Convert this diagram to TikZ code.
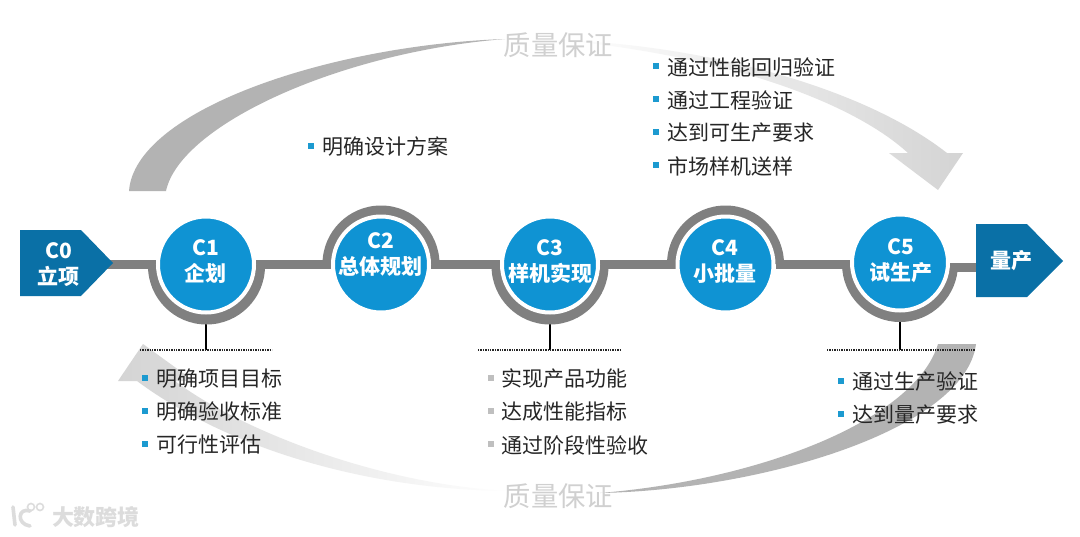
\documentclass[tikz,border=0pt]{standalone}
\usepackage{fontspec}
\setmainfont{Noto Sans CJK SC}
\usetikzlibrary{backgrounds}
\definecolor{stageblue}{HTML}{0F93D3}
\definecolor{darkblue}{HTML}{0A70A6}
\definecolor{bandgray}{HTML}{808080}
\definecolor{swoosh}{HTML}{B3B3B3}
\definecolor{swooshl}{HTML}{D4D4D4}
\definecolor{bulblue}{HTML}{1C9AD0}
\definecolor{bulgray}{HTML}{BFBFBF}
\definecolor{qual}{HTML}{D0D0D0}
\definecolor{bodytext}{HTML}{262626}
\definecolor{wm}{HTML}{DCDCDC}
\tikzset{
  stage/.style={circle,fill=stageblue,draw=white,line width=4pt,minimum size=96pt,inner sep=0pt},
  stagetext/.style={text=white,font=\fontsize{21}{26}\selectfont\bfseries,align=center,inner sep=0pt},
  band/.style={draw=bandgray,line width=9pt},
  ringfill/.style={fill=bandgray},
  stem/.style={draw=black,line width=1.5pt},
  dots/.style={draw=black!85,line width=1.6pt,dash pattern=on 1.4pt off 1pt},
  item/.style={anchor=west,inner sep=0pt,text=bodytext,font=\fontsize{21}{26}\selectfont},
  bul/.style={fill=bulblue,minimum size=6pt,inner sep=0pt},
  bulg/.style={fill=bulgray,minimum size=6pt,inner sep=0pt},
  qualtext/.style={text=qual,font=\fontsize{27.3}{30}\selectfont,inner sep=0pt},
  arrowbox/.style={fill=darkblue},
  wmtext/.style={text=wm,font=\fontsize{22}{26}\selectfont\bfseries,inner sep=0pt},
  wmline/.style={draw=wm,line width=3.6pt,line cap=round}
}
\begin{document}
\begin{tikzpicture}[x=1pt,y=-1pt]
\useasboundingbox (0,0) rectangle (1080,536);
% stage nodes
\fill[arrowbox] (20,230) -- (81,230) -- (113,263) -- (81,296) -- (20,296) -- cycle;
\fill[arrowbox] (976,224) -- (1027,224) -- (1063,261) -- (1027,297) -- (976,297) -- cycle;
\coordinate (c0) at (60,264.5);
\coordinate (c6) at (1000,267.5);
\node[stage] (c1) at (206,264.5) {};
\node[stage] (c2) at (381,264.5) {};
\node[stage] (c3) at (550,264.5) {};
\node[stage] (c4) at (725.5,264.5) {};
\node[stage] (c5) at (900,262.5) {};
\coordinate (c5r) at (930,267.5);
\node[stagetext] (t0) at (58.5,264.5) {C0\\立项};
\node[stagetext] (t1) at (205.5,261.5) {C1\\企划};
\node[stagetext] (t2) at (380.5,255) {C2\\总体规划};
\node[stagetext] (t3) at (550,261.5) {C3\\样机实现};
\node[stagetext] (t4) at (725,262) {C4\\小批量};
\node[stagetext] (t5) at (900.5,261) {C5\\试生产};
\node[stagetext] (t6) at (1011,261) {量产};
% dotted rules
\coordinate (d1l) at (140,350); \coordinate (d1r) at (272,350); \coordinate (d1m) at (206,350);
\coordinate (d3l) at (478,350); \coordinate (d3r) at (620,350); \coordinate (d3m) at (550,350);
\coordinate (d5l) at (827,350); \coordinate (d5r) at (975,350); \coordinate (d5m) at (900,350);
\begin{scope}[on background layer]
  \fill[white] (0,0) rectangle (1080,536);
  % swooshes
  \fill[swoosh] (129,191) .. controls (135,110) and (330,45) .. (505,39)
     .. controls (340,52) and (180,125) .. (166,191) -- cycle;
  \shade[left color=white,right color=swooshl] (560,40) .. controls (700,45) and (860,85) .. (947,153)
     -- (963,153) -- (938,190) -- (889,153) -- (908,153)
     .. controls (850,100) and (720,55) .. (560,40) -- cycle;
  \fill[swoosh] (976,344) .. controls (965,430) and (760,490) .. (600,493)
     .. controls (760,480) and (915,420) .. (938,344) -- cycle;
  \shade[left color=swooshl,right color=white] (510,491) .. controls (370,490) and (230,450) .. (137,381)
     -- (118,381) -- (143,344) -- (194,381) -- (175,381)
     .. controls (240,430) and (380,485) .. (510,491) -- cycle;
  % connectors
  \draw[stem] (c1) -- (d1m);
  \draw[stem] (c3) -- (d3m);
  \draw[stem] (c5) -- (d5m);
  \draw[band] (c0) -- (c1);
  \draw[band] (c1) -- (c2);
  \draw[band] (c2) -- (c3);
  \draw[band] (c3) -- (c4);
  \draw[band] (c4) -- (c5.center |- c4);
  \draw[band] (c5r) -- (c6);
  % half rings
  \fill[ringfill] (148,266) arc[start angle=180,end angle=360,radius=58.5pt] -- cycle;
  \fill[ringfill] (322.5,264) arc[start angle=180,end angle=0,radius=58.5pt] -- cycle;
  \fill[ringfill] (491.5,266) arc[start angle=180,end angle=360,radius=58.5pt] -- cycle;
  \fill[ringfill] (667,264) arc[start angle=180,end angle=0,radius=58.5pt] -- cycle;
  \fill[ringfill] (842,264) arc[start angle=180,end angle=360,radius=58pt] -- cycle;
\end{scope}
\draw[dots] (d1l) -- (d1r);
\draw[dots] (d3l) -- (d3r);
\draw[dots] (d5l) -- (d5r);
% quality labels
\node[qualtext] (q1) at (558.5,45) {质量保证};
\node[qualtext] (q2) at (558.5,496) {质量保证};
% lists
\node[bul] (b11) at (144.5,378) {}; \node[item] (i11) at (156.5,379) {明确项目目标};
\node[bul] (b12) at (144.5,411) {}; \node[item] (i12) at (156.5,412) {明确验收标准};
\node[bul] (b13) at (144.5,444) {}; \node[item] (i13) at (156.5,445) {可行性评估};
\node[bul] (b21) at (311,146) {}; \node[item] (i21) at (322,147) {明确设计方案};
\node[bulg] (b31) at (491,378) {}; \node[item] (i31) at (501,379) {实现产品功能};
\node[bulg] (b32) at (491,411) {}; \node[item] (i32) at (501,412) {达成性能指标};
\node[bulg] (b33) at (491,444) {}; \node[item] (i33) at (501,445) {通过阶段性验收};
\node[bul] (b41) at (656,66) {}; \node[item] (i41) at (667,67) {通过性能回归验证};
\node[bul] (b42) at (656,99) {}; \node[item] (i42) at (667,100) {通过工程验证};
\node[bul] (b43) at (656,132) {}; \node[item] (i43) at (667,133) {达到可生产要求};
\node[bul] (b44) at (656,165) {}; \node[item] (i44) at (667,166) {市场样机送样};
\node[bul] (b51) at (841,381) {}; \node[item] (i51) at (852,382) {通过生产验证};
\node[bul] (b52) at (841,414) {}; \node[item] (i52) at (852,415) {达到量产要求};
% watermark
\node[wmtext] (wm) at (96,517) {大数跨境};
\draw[wmline] (13,507) -- (15,525);
\draw[wmline] (30,511) .. controls (18,507) and (16,524) .. (30,526);
\draw[wmline,line width=1.6pt] (31,507) circle[radius=3.5pt];
\draw[wmline,line width=1.6pt] (40,507) circle[radius=3.5pt];
\end{tikzpicture}
\end{document}
